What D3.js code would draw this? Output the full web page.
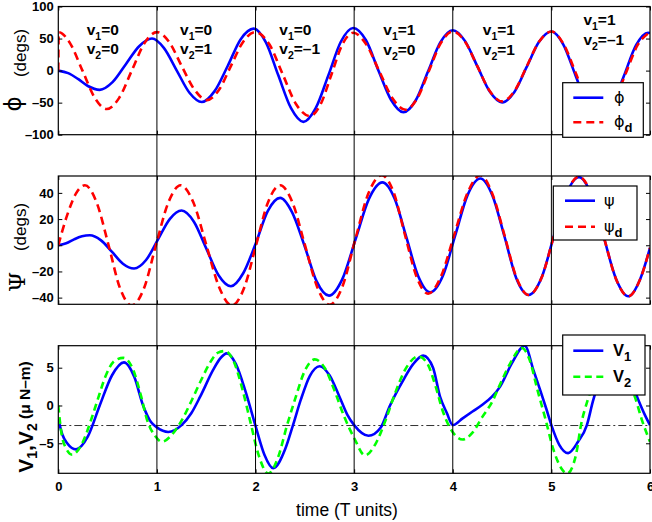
<!DOCTYPE html>
<html>
<head>
<meta charset="utf-8">
<script src="https://cdn.jsdelivr.net/npm/d3@7"></script>
<style>
body { margin: 0; background: #fff; }
svg { display: block; }
text { font-family: "Liberation Sans", Arial, sans-serif; }
</style>
</head>
<body>
<svg id="chart" width="652" height="522"></svg>
<script>
// ---- data ----
var xTicks = [0, 1, 2, 3, 4, 5, 6];
var phiTicks = [-100, -50, 0, 50, 100];
var psiTicks = [-40, -20, 0, 20, 40];
var vTicks = [-5, 0, 5];
var switchTimes = [1, 2, 3, 4, 5];
var v1Labels = ["0", "0", "0", "1", "1", "1"];
var v2Labels = ["0", "1", "\u20131", "0", "1", "\u20131"];
var vRef = -2.65;

// phi (actual)
var phiT = [0, 0.1, 0.2, 0.3, 0.42, 0.55, 0.685, 0.82, 0.95, 1.07, 1.2, 1.33, 1.455, 1.585, 1.72, 1.85, 1.98, 2.105, 2.23, 2.36, 2.485, 2.61, 2.74, 2.865, 2.99, 3.12, 3.245, 3.375, 3.5, 3.625, 3.75, 3.875, 4.0, 4.125, 4.25, 4.375, 4.5, 4.625, 4.75, 4.875, 5.0, 5.12, 5.245, 5.37, 5.49, 5.61, 5.735, 5.86, 5.98, 6.0];
var phiV = [0, -4, -13, -24, -30, -18, 10, 38, 50, 35.5, 0.5, -34.5, -49, -32, 8, 49, 65.5, 44, -7, -58.7, -80, -58.6, -6.7, 45, 66.5, 47.3, 0.7, -45.8, -65, -46.3, -1, 44.3, 63, 46, 6.5, -32.7, -49.5, -33.4, 5.7, 44.9, 61, 41, -7.5, -56, -76, -56, -8.5, 40, 59, 58.5];
// phi_d (desired)
var phiDT = [0, 0.004, 0.12, 0.245, 0.37, 0.49, 0.6175, 0.745, 0.8725, 1.0, 1.125, 1.25, 1.38, 1.505, 1.63, 1.75, 1.87, 1.995, 2.14, 2.275, 2.41, 2.55, 2.66, 2.77, 2.88, 2.99, 3.12, 3.255, 3.39, 3.52, 3.64, 3.76, 3.88, 4.0, 4.125, 4.25, 4.375, 4.5, 4.625, 4.75, 4.875, 5.0, 5.125, 5.25, 5.375, 5.5, 5.625, 5.75, 5.875, 6.0];
var phiDV = [0, 60, 42.5, 0, -42.5, -60, -42.5, 0, 42.5, 60, 44.5, 7.5, -29.5, -46, -29.8, 7, 44, 60, 41, -5.5, -52, -71, -52.6, -6, 40.6, 59, 41.5, -1, -43.5, -61, -43.3, 0, 43.3, 61, 45, 6.5, -32, -48, -32, 6.5, 45, 61, 41, -5, -52, -72, -52, -6, 40, 60];

// psi (actual)
var psiT = [0, 0.08, 0.16, 0.24, 0.32, 0.43, 0.545, 0.655, 0.768, 0.89, 1.01, 1.13, 1.25, 1.375, 1.5, 1.625, 1.75, 1.875, 2.0, 2.125, 2.25, 2.37, 2.5, 2.62, 2.745, 2.88, 3.015, 3.15, 3.286, 3.41, 3.53, 3.65, 3.77, 3.9, 4.025, 4.15, 4.28, 4.4, 4.525, 4.645, 4.77, 4.9, 5.025, 5.15, 5.28, 5.405, 5.53, 5.655, 5.78, 5.9, 6.0];
var psiV = [0, 1.5, 4.5, 6.8, 7.6, 3.9, -5.1, -14.1, -17.8, -11.3, 4.3, 20, 26.5, 18, -2.4, -22.9, -31.3, -21.4, 1, 26.3, 36.2, 25.3, -1.2, -27.6, -38.5, -25.9, 4.75, 35.4, 48, 35.7, 6, -23.7, -36, -23.3, 7.5, 38.3, 51, 38.4, 6.5, -25.4, -38, -24.9, 7, 38.9, 52, 38.6, 6.5, -25.6, -39, -25.9, -2];
// psi_d (desired)
var psiDT = [0, 0.09, 0.18, 0.27, 0.39, 0.51, 0.625, 0.745, 0.87, 0.99, 1.115, 1.24, 1.37, 1.5, 1.63, 1.76, 1.885, 2.005, 2.125, 2.25, 2.375, 2.5, 2.625, 2.75, 2.88, 3.01, 3.145, 3.28, 3.4, 3.515, 3.635, 3.75, 3.88, 4.015, 4.15, 4.28, 4.4, 4.525, 4.645, 4.77, 4.9, 5.025, 5.15, 5.28, 5.405, 5.53, 5.655, 5.78, 5.9, 6.0];
var psiDV = [0, 23, 39.6, 45.8, 32.4, 0, -32.6, -46, -32.6, 0, 32.5, 45.8, 32.6, 0.4, -31.8, -46, -32.5, 0, 32.5, 45.8, 32.6, 0.4, -31.8, -45.5, -31.8, 4, 39.7, 53.5, 40.5, 8, -24.4, -37, -23.9, 8, 40, 53.5, 39.6, 7.5, -24.6, -38, -24.9, 7, 38.9, 52.5, 39, 6.7, -25.7, -39, -26, -2];

// V1, V2 (micro N-m)
var v1T = [0, 0.04, 0.09, 0.18, 0.3, 0.42, 0.545, 0.666, 0.77, 0.86, 0.94, 1.0, 1.115, 1.25, 1.35, 1.44, 1.57, 1.64, 1.71, 1.8, 1.9, 2.0, 2.09, 2.18, 2.3, 2.38, 2.46, 2.55, 2.65, 2.75, 2.85, 2.93, 3.0, 3.145, 3.27, 3.36, 3.5, 3.6, 3.7, 3.8, 3.87, 3.94, 4.0, 4.1, 4.2, 4.3, 4.4, 4.48, 4.6, 4.73, 4.82, 4.885, 4.95, 5.0, 5.08, 5.17, 5.27, 5.36, 5.42, 5.5, 5.57, 5.64, 5.72, 5.8, 5.88, 5.95, 6.0];
var v1V = [-1.8, -3.8, -5.0, -5.8, -4.1, 0, 4.0, 5.7, 3.8, 0, -2.2, -2.9, -3.5, -2.6, -1.0, 1.2, 4.7, 6.2, 6.9, 5.5, 1.8, -2.7, -6.5, -8.3, -5.8, -2.6, 0.8, 3.9, 5.2, 4.0, 1.2, -1.2, -2.6, -4.0, -2.9, -0.1, 3.4, 5.5, 6.6, 5.0, 1.2, -1.0, -2.6, -1.7, -0.8, 0.1, 1.2, 2.5, 5.6, 7.9, 4.6, 2.1, -0.5, -2.6, -5.2, -6.3, -4.8, -2.6, 0.5, 4.0, 6.5, 7.4, 6.3, 3.5, 0.8, -1.3, -2.6];
var v2T = [0, 0.03, 0.08, 0.14, 0.25, 0.33, 0.4, 0.48, 0.57, 0.66, 0.76, 0.84, 0.9, 0.98, 1.05, 1.15, 1.25, 1.35, 1.45, 1.55, 1.62, 1.69, 1.78, 1.87, 1.95, 2.03, 2.13, 2.23, 2.32, 2.4, 2.5, 2.6, 2.7, 2.8, 2.9, 3.0, 3.11, 3.22, 3.32, 3.42, 3.52, 3.65, 3.74, 3.82, 3.9, 3.97, 4.1, 4.2, 4.3, 4.4, 4.48, 4.58, 4.7, 4.78, 4.86, 4.94, 5.02, 5.1, 5.16, 5.25, 5.3, 5.37, 5.44, 5.5, 5.58, 5.66, 5.74, 5.85, 5.92, 6.0];
var v2V = [0, -3.5, -5.7, -6.5, -4.8, -2.0, 0.8, 3.9, 5.9, 6.3, 4.7, 1.2, -1.9, -4.0, -4.8, -3.9, -2.0, 0.6, 3.4, 5.9, 7.0, 7.2, 5.8, 2.0, -2.3, -6.5, -9.0, -6.8, -2.6, 0.8, 4.6, 6.1, 5.0, 2.0, -1.5, -4.3, -6.6, -5.0, -1.9, 1.8, 4.8, 6.5, 5.6, 2.8, -0.8, -2.9, -4.5, -3.6, -1.5, 0.5, 2.8, 5.5, 7.6, 6.0, 2.0, -1.8, -5.8, -8.3, -9.0, -6.5, -2.6, 0.8, 3.5, 5.8, 7.3, 6.5, 4.0, 1.0, -2.0, -4.8];

// ---- layout ----
var svg = d3.select("#chart");
var x = d3.scaleLinear().domain([0, 6]).range([58.3, 650]);

var panels = [
  { top: 6.5, bottom: 134.7, domain: [-100, 100], ticks: phiTicks,
    series: [[phiT, phiV, "#0000ff", null], [phiDT, phiDV, "#ff0000", "8,5"]] },
  { top: 176, bottom: 304.3, domain: [-45.1, 52.9], ticks: psiTicks,
    series: [[psiT, psiV, "#0000ff", null], [psiDT, psiDV, "#ff0000", "8,5"]] },
  { top: 345.7, bottom: 473.3, domain: [-8.97, 7.91], ticks: vTicks,
    series: [[v1T, v1V, "#0000ff", null], [v2T, v2V, "#00ff00", "7,4.5"]] }
];

function fmt(d) { return d < 0 ? "\u2013" + Math.abs(d) : String(d); }

panels.forEach(function(p, i) {
  var y = d3.scaleLinear().domain(p.domain).range([p.bottom, p.top]);

  svg.append("clipPath").attr("id", "clip" + i)
    .append("rect")
    .attr("x", x(0)).attr("y", p.top)
    .attr("width", x(6) - x(0)).attr("height", p.bottom - p.top);

  var g = svg.append("g").attr("clip-path", "url(#clip" + i + ")");

  if (i == 2) {
    g.append("line")
      .attr("x1", x(0)).attr("x2", x(6))
      .attr("y1", y(vRef)).attr("y2", y(vRef))
      .attr("stroke", "#333").attr("stroke-width", 1)
      .attr("stroke-dasharray", "8,3,2,3");
  }

  p.series.forEach(function(s) {
    var pts = s[0].map(function(t, k) { return [t, s[1][k]]; });
    var line = d3.line()
      .x(function(d) { return x(d[0]); })
      .y(function(d) { return y(d[1]); })
      .curve(d3.curveMonotoneX);
    g.append("path")
      .attr("d", line(pts))
      .attr("fill", "none")
      .attr("stroke", s[2])
      .attr("stroke-width", 2.6)
      .attr("stroke-dasharray", s[3]);
  });

  // frame
  svg.append("rect")
    .attr("x", x(0)).attr("y", p.top)
    .attr("width", x(6) - x(0)).attr("height", p.bottom - p.top)
    .attr("fill", "none").attr("stroke", "#000").attr("stroke-width", 1.2);

  // axes with inward ticks
  var left = svg.append("g").attr("transform", "translate(" + x(0) + ",0)")
    .call(d3.axisLeft(y).tickValues(p.ticks).tickSize(-4).tickPadding(4.5).tickFormat(fmt));
  var right = svg.append("g").attr("transform", "translate(" + x(6) + ",0)")
    .call(d3.axisRight(y).tickValues(p.ticks).tickSize(-4).tickFormat(""));
  var bottom = svg.append("g").attr("transform", "translate(0," + p.bottom + ")")
    .call(d3.axisBottom(x).tickValues(xTicks).tickSize(-4).tickPadding(8.5)
      .tickFormat(i == 2 ? fmt : ""));
  var top = svg.append("g").attr("transform", "translate(0," + p.top + ")")
    .call(d3.axisTop(x).tickValues(xTicks).tickSize(-4).tickFormat(""));

  [left, right, bottom, top].forEach(function(a) {
    a.select(".domain").remove();
    a.selectAll(".tick line").attr("stroke", "#000");
    a.selectAll("text")
      .attr("fill", "#000")
      .style("font-family", "'Liberation Sans', Arial, sans-serif")
      .style("font-size", "13px")
      .style("font-weight", "bold");
  });
});

// switching-time lines across all panels
svg.selectAll(".switch").data(switchTimes).enter().append("line")
  .attr("class", "switch")
  .attr("x1", function(d) { return x(d); })
  .attr("x2", function(d) { return x(d); })
  .attr("y1", panels[0].top)
  .attr("y2", panels[2].bottom)
  .attr("stroke", "#000").attr("stroke-width", 1);

// v1 / v2 annotations
var annDx = [28.4, 23.1, 23.8, 29.2, 30, 32];
var annBase = [[35, 54], [35, 54], [35, 54], [35, 55], [35, 55], [25, 45]];
v1Labels.forEach(function(v1, k) {
  var rows = [["1", v1], ["2", v2Labels[k]]];
  rows.forEach(function(r, j) {
    var t = svg.append("text")
      .attr("x", x(k) + annDx[k]).attr("y", annBase[k][j])
      .style("font-size", "15.5px").style("font-weight", "bold");
    t.append("tspan").text("v");
    t.append("tspan").attr("dy", 5).style("font-size", "10.5px").text(r[0]);
    t.append("tspan").attr("dy", -5).text("=" + r[1]);
  });
});

// legends
function legend(box, rows) {
  svg.append("rect")
    .attr("x", box[0]).attr("y", box[1]).attr("width", box[2]).attr("height", box[3])
    .attr("fill", "#fff").attr("stroke", "#000").attr("stroke-width", 1.2);
  rows.forEach(function(r) {
    svg.append("line")
      .attr("x1", r.x1).attr("x2", r.x1 + 30).attr("y1", r.y).attr("y2", r.y)
      .attr("stroke", r.color).attr("stroke-width", 2.6)
      .attr("stroke-dasharray", r.dash);
    var t = svg.append("text").attr("x", r.tx).attr("y", r.y + 5);
    t.append("tspan").text(r.sym)
      .style("font-family", r.greek ? "'DejaVu Sans', sans-serif" : null)
      .style("font-size", r.greek ? "16px" : "16.5px")
      .style("font-weight", r.greek ? "normal" : "bold");
    if (r.sub) {
      t.append("tspan").attr("dy", 5).text(r.sub)
        .style("font-size", "13px").style("font-weight", "bold");
    }
  });
}

legend([562.7, 82.7, 80.6, 54.6], [
  { x1: 573.3, y: 97.7, color: "#0000ff", dash: null, tx: 614, sym: "\u03d5", greek: true },
  { x1: 573.3, y: 122.3, color: "#ff0000", dash: "8,5", tx: 614, sym: "\u03d5", sub: "d", greek: true }
]);
legend([553.3, 186, 83.7, 54], [
  { x1: 565, y: 200.7, color: "#0000ff", dash: null, tx: 604, sym: "\u03c8", greek: true },
  { x1: 565, y: 226.7, color: "#ff0000", dash: "8,5", tx: 604, sym: "\u03c8", sub: "d", greek: true }
]);
legend([562.7, 335, 82.3, 60], [
  { x1: 573.3, y: 350.7, color: "#0000ff", dash: null, tx: 613, sym: "V", sub: "1" },
  { x1: 573.3, y: 376.7, color: "#00ff00", dash: "7,4.5", tx: 613, sym: "V", sub: "2" }
]);

// y-axis titles (rotated)
function rotText(xp, yp) {
  return svg.append("text")
    .attr("transform", "translate(" + xp + "," + yp + ") rotate(-90)")
    .attr("text-anchor", "middle");
}
rotText(21, 104).text("\u03d5").style("font-family", "'DejaVu Sans', sans-serif").style("font-size", "23px");
rotText(26, 53).text("(degs)").style("font-size", "17px");
rotText(25, 282).text("\u03a8").style("font-family", "'DejaVu Serif', serif").style("font-size", "23px");
rotText(26, 227).text("(degs)").style("font-size", "17px");

var vl = rotText(33, 417).style("font-weight", "bold").style("font-size", "21px");
vl.append("tspan").text("V");
vl.append("tspan").attr("dy", 4).style("font-size", "14px").text("1");
vl.append("tspan").attr("dy", -4).text(",V");
vl.append("tspan").attr("dy", 4).style("font-size", "14px").text("2");
vl.append("tspan").attr("dy", -7).style("font-size", "15.5px").text(" (\u03bc N\u2013m)");

// x-axis title
svg.append("text")
  .attr("x", 347).attr("y", 516)
  .attr("text-anchor", "middle")
  .style("font-size", "17.5px")
  .text("time (T units)");
</script>
</body>
</html>
